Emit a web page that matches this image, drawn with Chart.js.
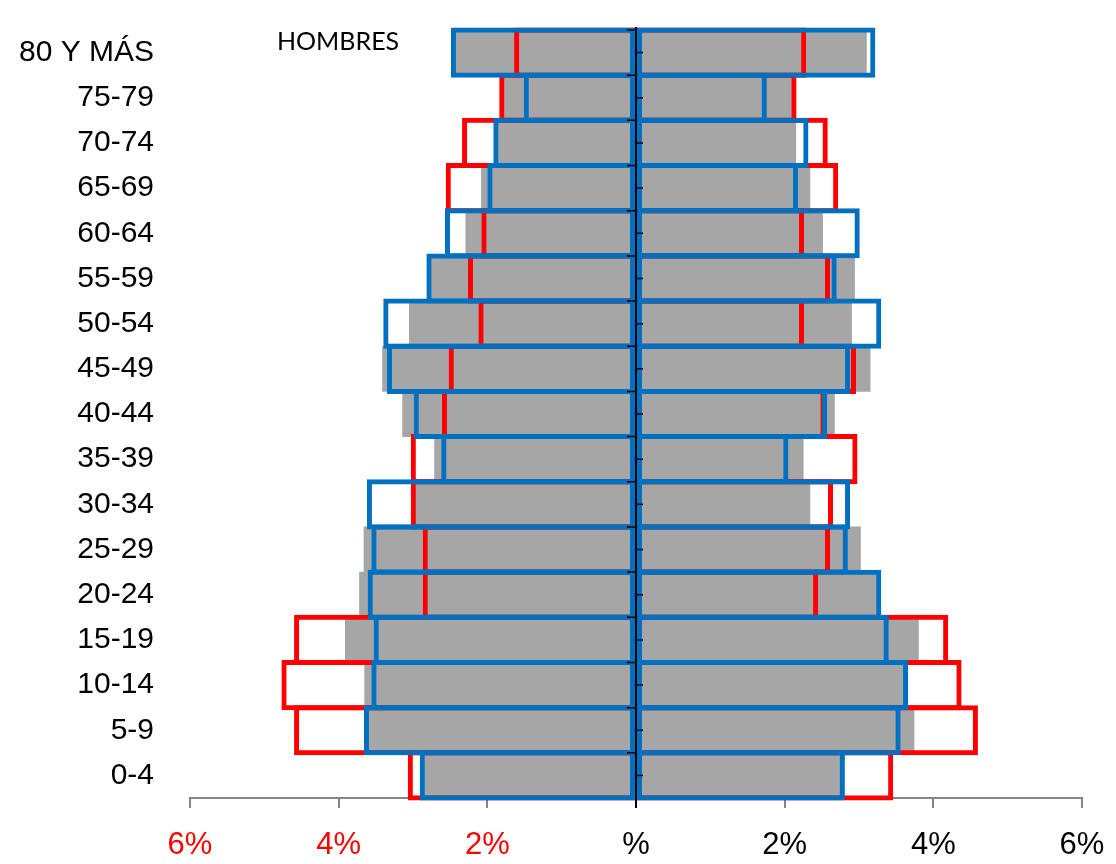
<!DOCTYPE html>
<html>
<head>
<meta charset="utf-8">
<script src="https://cdn.jsdelivr.net/npm/chart.js@4.4.1/dist/chart.umd.min.js"></script>
<style>
  body { margin: 0; background: #fff; }
  #wrap { width: 1116px; height: 864px; position: relative; }
</style>
</head>
<body>
<div id="wrap"><canvas id="pyramid"></canvas></div>
<script>
// age groups, top to bottom
const ageGroups = ['80 Y MÁS', '75-79', '70-74', '65-69', '60-64', '55-59', '50-54', '45-49',
    '40-44', '35-39', '30-34', '25-29', '20-24', '15-19', '10-14', '5-9', '0-4'];

// % of population, men (left) and women (right)
const menGray   = [2.47, 1.77, 1.90, 2.08, 2.29, 2.77, 3.05, 3.41, 3.14, 2.71, 3.00, 3.66, 3.72, 3.91, 3.65, 3.63, 2.89];
const menRed    = [1.64, 1.84, 2.34, 2.56, 2.08, 2.26, 2.12, 2.52, 2.61, 3.03, 3.03, 2.87, 2.87, 4.60, 4.77, 4.60, 3.07];
const menBlue   = [2.49, 1.51, 1.92, 2.00, 2.57, 2.82, 3.40, 3.35, 2.99, 2.62, 3.62, 3.56, 3.61, 3.53, 3.56, 3.66, 2.91];

const womenGray = [3.10, 2.10, 2.15, 2.34, 2.51, 2.94, 2.90, 3.15, 2.67, 2.25, 2.34, 3.02, 3.24, 3.80, 3.64, 3.74, 2.80];
const womenRed  = [2.29, 2.16, 2.58, 2.72, 2.26, 2.61, 2.26, 2.96, 2.55, 2.98, 2.65, 2.61, 2.45, 4.20, 4.38, 4.60, 3.46];
const womenBlue = [3.22, 1.76, 2.32, 2.18, 3.01, 2.70, 3.30, 2.88, 2.57, 2.05, 2.88, 2.85, 3.30, 3.40, 3.66, 3.56, 2.81];

// x axis: -6 .. 6 step 2
const xTickLabels = ['6%', '4%', '2%', '%', '2%', '4%', '6%'];

const RED = '#FF0000';
const BLUE = '#0070C0';
const GRAY = '#A6A6A6';

function outlineSet(values, color, negate) {
    return {
        data: values.map(v => negate ? -v : v),
        backgroundColor: 'rgba(0,0,0,0)',
        borderColor: color,
        borderWidth: 5,
        borderSkipped: false,
        barPercentage: 1.11,
        categoryPercentage: 1,
        grouped: false,
        clip: false
    };
}

function fillSet(values, negate) {
    return {
        data: values.map(v => negate ? -v : v),
        backgroundColor: GRAY,
        borderWidth: 0,
        barPercentage: 1,
        categoryPercentage: 1,
        grouped: false
    };
}

// scale label overflow shouldn't push the plot area around
function noPad(scale) {
    scale.paddingTop = 0;
    scale.paddingBottom = 0;
    scale.paddingLeft = 0;
    scale.paddingRight = 0;
}

// zero axis with small ticks, and the HOMBRES label
const centerAxis = {
    id: 'centerAxis',
    afterDatasetsDraw(chart) {
        const ctx = chart.ctx;
        const xs = chart.scales.x;
        const ys = chart.scales.y;
        const area = chart.chartArea;
        const x0 = xs.getPixelForValue(0);
        const step = (area.bottom - area.top) / ageGroups.length;
        ctx.save();
        ctx.strokeStyle = '#000';
        ctx.lineWidth = 2;
        ctx.beginPath();
        ctx.moveTo(x0, area.top - 3);
        ctx.lineTo(x0, area.bottom + 10);
        ctx.stroke();
        ctx.lineWidth = 1.5;
        ageGroups.forEach((g, i) => {
            const yc = ys.getPixelForValue(i);
            ctx.beginPath();
            ctx.moveTo(x0, yc);
            ctx.lineTo(x0 + 7, yc);
            ctx.moveTo(x0 - 9, yc - step / 2);
            ctx.lineTo(x0, yc - step / 2);
            ctx.stroke();
        });
        ctx.fillStyle = '#000';
        ctx.font = '25px Lato, "Open Sans", sans-serif';
        ctx.textBaseline = 'alphabetic';
        ctx.textAlign = 'left';
        ctx.fillText('HOMBRES', 277, 50);
        ctx.restore();
    }
};

const chart = new Chart(document.getElementById('pyramid'), {
    type: 'bar',
    data: {
        labels: ageGroups,
        datasets: [
            outlineSet(menBlue, BLUE, true),
            outlineSet(womenBlue, BLUE, false),
            outlineSet(menRed, RED, true),
            outlineSet(womenRed, RED, false),
            fillSet(menGray, true),
            fillSet(womenGray, false)
        ]
    },
    options: {
        indexAxis: 'y',
        responsive: true,
        maintainAspectRatio: false,
        animation: false,
        layout: { padding: { top: 30, right: 34, left: 0, bottom: 0 } },
        plugins: {
            legend: { display: false },
            tooltip: { enabled: false }
        },
        scales: {
            x: {
                min: -6,
                max: 6,
                afterFit: scale => { scale.height = 66; noPad(scale); },
                ticks: {
                    stepSize: 2,
                    padding: 19,
                    font: { family: '"Liberation Sans", Arial, sans-serif', size: 31 },
                    color: c => c.tick.value < 0 ? RED : '#000',
                    callback: (v, i) => xTickLabels[i]
                },
                grid: {
                    drawOnChartArea: false,
                    drawTicks: true,
                    tickLength: 10,
                    color: '#868686',
                    lineWidth: 2
                },
                border: { display: true, color: '#868686', width: 2 }
            },
            y: {
                afterFit: scale => { scale.width = 190; noPad(scale); },
                ticks: {
                    padding: 28,
                    font: { family: '"Liberation Sans", Arial, sans-serif', size: 30 },
                    color: '#000'
                },
                grid: { display: false },
                border: { display: false }
            }
        }
    },
    plugins: [centerAxis]
});
</script>
</body>
</html>
